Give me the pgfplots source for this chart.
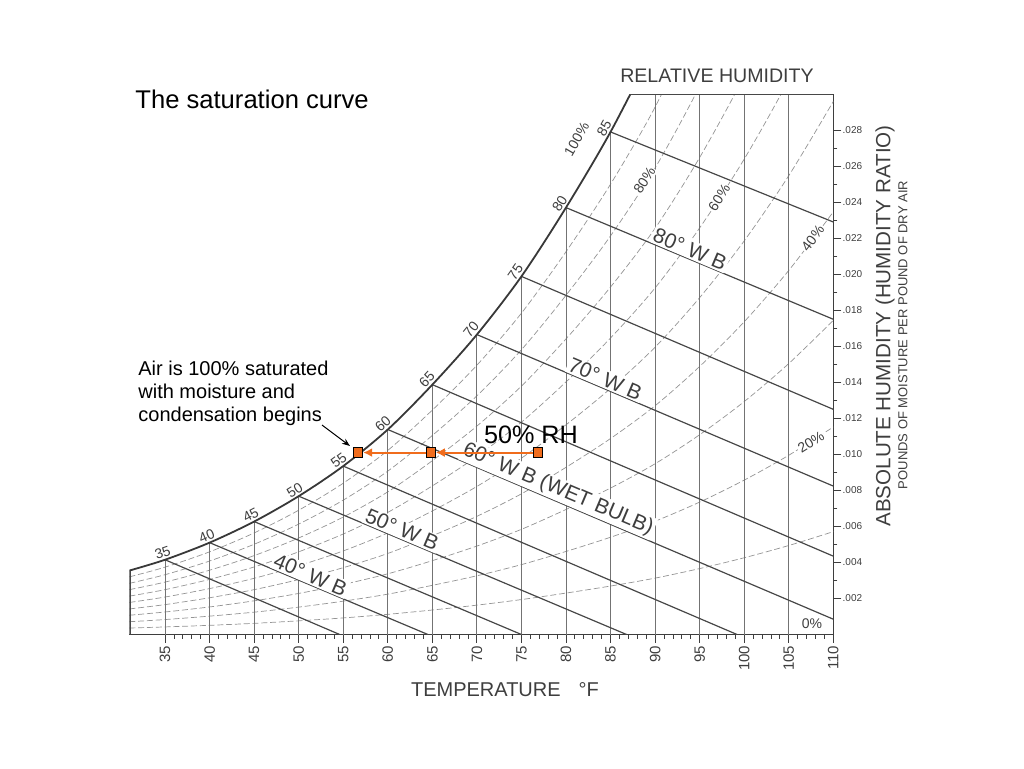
\documentclass[border=0pt]{standalone}
\usepackage{pgfplots}
\pgfplotsset{compat=1.18}
\usepackage{fontspec}
\setmainfont{Liberation Sans}
\usetikzlibrary{arrows.meta}

\definecolor{rhorange}{RGB}{240,108,28}
\definecolor{ink}{RGB}{62,62,62}

\tikzset{
  vline/.style={black!55, line width=0.45pt},
  wbline/.style={black!72, line width=0.6pt},
  rhline/.style={black!42, line width=0.35pt, dash pattern=on 3pt off 1.4pt},
  edge/.style={black!72, line width=1.2pt},
  satlbl/.style={font=\fontsize{7}{8}\selectfont, text=ink, anchor=south, inner sep=1pt},
  rhlbl/.style={font=\fontsize{7}{8}\selectfont, text=ink, fill=white, inner sep=0.6pt},
  wblbl/.style={font=\fontsize{10.5}{12}\selectfont, text=ink, fill=white, inner sep=0.8pt, anchor=south, rotate=-23},
}

\begin{document}
\begin{tikzpicture}
\path[use as bounding box] (-64.7pt,-66.75pt) rectangle (447.3pt,317.25pt);
\begin{axis}[
  at={(0pt,0pt)}, anchor=south west,
  scale only axis, width=351.95pt, height=270.2pt,
  xmin=31, xmax=110, ymin=0, ymax=0.030,
  axis x line=bottom, axis y line=right,
  axis line style={-, draw=ink},
  x axis line style={line width=0.9pt},
  y axis line style={line width=0.6pt},
  xtick={35,40,...,110},
  minor x tick num=4,
  ytick={0.002,0.004,0.006,0.008,0.010,0.012,0.014,0.016,0.018,0.020,0.022,0.024,0.026,0.028},
  yticklabels={.002,.004,.006,.008,.010,.012,.014,.016,.018,.020,.022,.024,.026,.028},
  scaled y ticks=false,
  minor y tick num=1,
  tick align=outside,
  major tick length=4pt, minor tick length=2pt,
  tick style={ink, line width=0.4pt},
  /pgf/number format/assume math mode=true,
  xticklabel style={rotate=90, anchor=east, font=\fontsize{7.5}{8}\selectfont, text=ink, inner sep=1.5pt},
  yticklabel style={anchor=west, font=\fontsize{5}{6}\selectfont, text=ink, inner sep=0.5pt},
]

% relative humidity curves, 10% ... 90%
\addplot[rhline, smooth] coordinates {(31,.00036)(35,.00042)(40,.00051)(45,.00062)(50,.00076)(55,.00092)(60,.00112)(65,.00136)(70,.00163)(75,.00194)(80,.00230)(85,.00269)(90,.00313)(95,.00366)(100,.00426)(105,.00494)(110,.00571)};
\addplot[rhline, smooth] coordinates {(31,.00071)(35,.00083)(40,.00102)(45,.00124)(50,.00152)(55,.00185)(60,.00224)(65,.00273)(70,.00326)(75,.00388)(80,.00461)(85,.00540)(90,.00629)(95,.00735)(100,.00857)(105,.00995)(110,.01152)};
\addplot[rhline, smooth] coordinates {(31,.00107)(35,.00125)(40,.00153)(45,.00187)(50,.00228)(55,.00278)(60,.00337)(65,.00410)(70,.00491)(75,.00584)(80,.00694)(85,.00813)(90,.00948)(95,.01109)(100,.01293)(105,.01504)(110,.01744)};
\addplot[rhline, smooth] coordinates {(31,.00142)(35,.00166)(40,.00204)(45,.00249)(50,.00305)(55,.00371)(60,.00450)(65,.00548)(70,.00656)(75,.00781)(80,.00928)(85,.01088)(90,.01270)(95,.01488)(100,.01736)(105,.02021)(110,.02346)};
\addplot[rhline, smooth] coordinates {(31,.00178)(35,.00208)(40,.00255)(45,.00312)(50,.00382)(55,.00464)(60,.00564)(65,.00686)(70,.00822)(75,.00979)(80,.01164)(85,.01366)(90,.01595)(95,.01870)(100,.02185)(105,.02547)(110,.02959)};
\addplot[rhline, smooth] coordinates {(31,.00213)(35,.00249)(40,.00306)(45,.00375)(50,.00459)(55,.00558)(60,.00678)(65,.00825)(70,.00989)(75,.01179)(80,.01402)(85,.01646)(90,.01924)(95,.02257)(100,.02639)(105,.03080)(110,.03580)};
\addplot[rhline, smooth] coordinates {(31,.00249)(35,.00291)(40,.00357)(45,.00438)(50,.00536)(55,.00652)(60,.00792)(65,.00965)(70,.01157)(75,.01379)(80,.01641)(85,.01929)(90,.02255)(95,.02648)(100,.03100)(105,.03620)};
\addplot[rhline, smooth] coordinates {(31,.00284)(35,.00332)(40,.00408)(45,.00501)(50,.00613)(55,.00746)(60,.00907)(65,.01105)(70,.01325)(75,.01581)(80,.01883)(85,.02213)(90,.02590)(95,.03044)(100,.03570)};
\addplot[rhline, smooth] coordinates {(31,.00320)(35,.00374)(40,.00459)(45,.00564)(50,.00690)(55,.00840)(60,.01022)(65,.01246)(70,.01495)(75,.01784)(80,.02125)(85,.02500)(90,.02928)(95,.03444)};

% dry bulb lines
\addplot[vline, ycomb] coordinates {(35,.00415)(40,.00510)(45,.00627)(50,.00768)(55,.00935)(60,.01138)(65,.01387)(70,.01665)(75,.01988)(80,.02370)(85,.02790)(90,.030)(95,.030)(100,.030)(105,.030)};

% wet bulb lines
\addplot[wbline] coordinates {(35,.00415)(54.6,0)};
\addplot[wbline] coordinates {(40,.00510)(64.5,0)};
\addplot[wbline] coordinates {(45,.00627)(75.0,0)};
\addplot[wbline] coordinates {(50,.00768)(86.8,0)};
\addplot[wbline] coordinates {(55,.00935)(99.2,0)};
\addplot[wbline] coordinates {(60,.01138)(110,.00085)};
\addplot[wbline] coordinates {(65,.01387)(110,.00435)};
\addplot[wbline] coordinates {(70,.01665)(110,.00824)};
\addplot[wbline] coordinates {(75,.01988)(110,.01250)};
\addplot[wbline] coordinates {(80,.02370)(110,.01750)};
\addplot[wbline] coordinates {(85,.02790)(110,.02290)};

% saturation curve and chart edges
\addplot[black!78, line width=0.9pt, smooth] coordinates {(31,.00355)(35,.00415)(40,.00510)(45,.00627)(50,.00768)(55,.00935)(60,.01138)(65,.01387)(70,.01665)(75,.01988)(80,.02370)(85,.02790)(90,.03270)};
\addplot[edge] coordinates {(31,0)(31,.00355)};
\addplot[edge] coordinates {(87.2,.030)(110,.030)};

% saturation temperatures
\node[satlbl, rotate=19] at (35,.00415) {35};
\node[satlbl, rotate=23] at (40,.00510) {40};
\node[satlbl, rotate=27.5] at (45,.00627) {45};
\node[satlbl, rotate=32] at (50,.00768) {50};
\node[satlbl, rotate=37] at (55,.00935) {55};
\node[satlbl, rotate=42] at (60,.01138) {60};
\node[satlbl, rotate=47] at (65,.01387) {65};
\node[satlbl, rotate=50.5] at (70,.01665) {70};
\node[satlbl, rotate=55] at (75,.01988) {75};
\node[satlbl, rotate=58] at (80,.02370) {80};
\node[satlbl, rotate=61] at (85,.02790) {85};

% RH labels
\node[font=\fontsize{7}{8}\selectfont, text=ink, rotate=60] at (81.2,.0275) {100\%};
\node[rhlbl, rotate=57] at (88.8,.0252) {80\%};
\node[rhlbl, rotate=57] at (97.2,.02425) {60\%};
\node[rhlbl, rotate=53] at (107.7,.0220) {40\%};
\node[rhlbl, rotate=32] at (107.5,.0107) {20\%};
\node[font=\fontsize{7}{8}\selectfont, text=ink] at (107.6,.00062) {0\%};

% wet bulb labels
\node[wblbl] at (93.5,.02091) {80° W B};
\node[wblbl] at (84,.01371) {70° W B};
\node[wblbl] at (78.6,.00746) {60° W B (WET BULB)};
\node[wblbl] at (61.2,.00534) {50° W B};
\node[wblbl] at (50.9,.00283) {40° W B};

% the cooling path at constant moisture
\addplot[rhorange, line width=1pt, -{Latex[length=4.5pt,width=4.5pt]}, shorten >=2.4pt] coordinates {(76.9,.0101)(64.85,.0101)};
\addplot[rhorange, line width=1pt, -{Latex[length=4.5pt,width=4.5pt]}, shorten >=2.4pt] coordinates {(64.85,.0101)(56.7,.0101)};
\addplot[only marks, mark=square*, mark size=2.3pt, mark options={fill=rhorange, draw=black, line width=0.5pt}] coordinates {(56.7,.0101)(64.85,.0101)(76.9,.0101)};
\end{axis}

\node[anchor=west, inner sep=0pt, font=\fontsize{12.8}{15}\selectfont] at (2.8pt,267.75pt) {The saturation curve};
\node[anchor=north west, align=left, font=\fontsize{10}{11.5}\selectfont, inner sep=0pt] at (4.3pt,137pt) {Air is 100\% saturated\\with moisture and\\condensation begins};
\draw[-{Stealth[length=4pt,width=3pt]}, line width=0.5pt] (96.3pt,104.75pt) -- (110.3pt,94.25pt);
\node[font=\fontsize{12.6}{15}\selectfont] at (200.8pt,99.75pt) {50\% RH};
\node[font=\fontsize{9.8}{12}\selectfont, text=ink] at (293.8pt,279.25pt) {RELATIVE HUMIDITY};
\node[font=\fontsize{10}{12}\selectfont, text=ink] at (187.8pt,-27.75pt) {TEMPERATURE\hspace{0.9em}°F};
\node[rotate=90, font=\fontsize{10.3}{12}\selectfont, text=ink] at (377.8pt,154.25pt) {ABSOLUTE HUMIDITY (HUMIDITY RATIO)};
\node[rotate=90, font=\fontsize{6.5}{8}\selectfont, text=ink] at (386.8pt,149.75pt) {POUNDS OF MOISTURE PER POUND OF DRY AIR};
\end{tikzpicture}
\end{document}
